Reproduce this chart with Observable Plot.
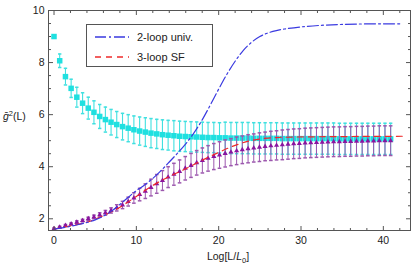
<!DOCTYPE html>
<html><head><meta charset="utf-8">
<script src="https://cdn.jsdelivr.net/npm/d3@7"></script>
<script src="https://cdn.jsdelivr.net/npm/@observablehq/plot@0.6"></script>
<style>
body{margin:0;background:#fff;font-family:"Liberation Sans",Arial,sans-serif}
#wrap{position:relative;width:415px;height:263px}
#legend{position:absolute;left:86px;top:24px;width:127px;height:43px;border:1px solid #555;background:#fff;box-sizing:border-box;font-size:11px;color:#222}
#legend .row{position:absolute;left:0;height:14px;display:flex;align-items:center}
#legend svg{margin-left:8px;margin-right:8px}
</style></head><body><div id="wrap"><div id="legend"></div></div>
<script>
// Log[L/L0] positions of the data points
const xs = [0,0.69,1.39,2.08,2.77,3.47,4.16,4.85,5.55,6.24,6.93,7.62,8.32,9.01,9.70,10.40,11.09,11.78,12.48,13.17,13.86,14.56,15.25,15.94,16.64,17.33,18.02,18.71,19.41,20.10,20.79,21.49,22.18,22.87,23.57,24.26,24.95,25.64,26.34,27.03,27.73,28.42,29.11,29.80,30.50,31.19,31.88,32.58,33.27,33.96,34.66,35.35,36.04,36.74,37.43,38.12,38.82,39.51,40.20,40.89];
// cyan squares (decreasing series)
const cyanY = [9.00,8.07,7.46,7.01,6.67,6.44,6.25,6.09,5.93,5.81,5.71,5.62,5.54,5.48,5.42,5.37,5.33,5.29,5.26,5.23,5.21,5.19,5.17,5.16,5.15,5.14,5.13,5.12,5.12,5.11,5.11,5.10,5.10,5.10,5.10,5.09,5.09,5.09,5.09,5.09,5.08,5.08,5.08,5.08,5.08,5.08,5.08,5.08,5.08,5.08,5.07,5.07,5.07,5.07,5.07,5.07,5.07,5.07,5.07,5.07];
const cyanErr = [0.04,0.26,0.32,0.35,0.38,0.40,0.42,0.44,0.46,0.48,0.49,0.50,0.51,0.52,0.53,0.54,0.55,0.56,0.56,0.57,0.57,0.58,0.58,0.58,0.58,0.58,0.58,0.58,0.58,0.58,0.60,0.60,0.60,0.60,0.60,0.60,0.60,0.60,0.60,0.60,0.60,0.60,0.60,0.60,0.60,0.60,0.60,0.60,0.60,0.60,0.60,0.60,0.60,0.60,0.60,0.60,0.60,0.60,0.60,0.60];
// purple triangles (increasing series)
const purpleY = [1.62,1.68,1.74,1.80,1.87,1.93,2.00,2.07,2.15,2.23,2.32,2.42,2.53,2.66,2.80,2.93,3.06,3.20,3.34,3.47,3.60,3.71,3.82,3.94,4.05,4.15,4.24,4.32,4.39,4.45,4.51,4.56,4.61,4.65,4.69,4.72,4.75,4.78,4.80,4.82,4.84,4.86,4.88,4.89,4.91,4.92,4.93,4.94,4.95,4.96,4.96,4.97,4.97,4.98,4.98,4.99,4.99,5.00,5.00,5.00];
const purpleErr = [0.03,0.03,0.04,0.04,0.05,0.05,0.06,0.07,0.08,0.09,0.10,0.12,0.14,0.17,0.20,0.24,0.28,0.32,0.36,0.38,0.40,0.42,0.44,0.45,0.46,0.47,0.48,0.49,0.50,0.51,0.52,0.52,0.53,0.53,0.54,0.54,0.55,0.55,0.56,0.56,0.57,0.57,0.57,0.57,0.57,0.57,0.57,0.57,0.57,0.57,0.57,0.57,0.57,0.57,0.57,0.57,0.57,0.57,0.57,0.57];
// 2-loop universal curve
const univX = [0,1,2,3,4,5,6,7,8,9,10,11,12,13,14,15,16,17,18,19,20,21,22,23,24,25,26,27,28,30,33,37,42];
const univY = [1.60,1.65,1.71,1.78,1.86,1.96,2.10,2.30,2.55,2.82,3.08,3.30,3.55,3.85,4.18,4.52,4.88,5.30,5.80,6.38,6.98,7.55,8.05,8.47,8.78,9.00,9.14,9.23,9.29,9.37,9.44,9.48,9.49];
// 3-loop SF curve
const sfX = [0,2,4,6,8,10,12,14,16,18,20,22,24,26,28,32,36,42.5];
const sfY = [1.60,1.73,1.87,2.12,2.44,2.86,3.28,3.62,3.92,4.25,4.55,4.82,5.01,5.10,5.13,5.15,5.16,5.17];
// ticks
const xMajor = [0,10,20,30,40];
const xMinor = [2,4,6,8,12,14,16,18,22,24,26,28,32,34,36,38,42];
const yMajor = [2,4,6,8,10];
const yMinor = [2.5,3,3.5,4.5,5,5.5,6.5,7,7.5,8.5,9,9.5];
const legendLabels = ["2-loop univ.","3-loop SF"];

const cyanData = xs.map((x,i)=>({x, y:cyanY[i], e:cyanErr[i]}));
const purpleData = xs.map((x,i)=>({x, y:purpleY[i], e:purpleErr[i]}));
const univData = univX.map((x,i)=>({x, y:univY[i]}));
const sfData = sfX.map((x,i)=>({x, y:sfY[i]}));

const mk = f => ({draw(ctx,size){ const r=Math.sqrt(size/Math.PI); f(ctx,r); }});
const hline = mk((c,r)=>{c.moveTo(-r,0);c.lineTo(r,0);});
const tickUp = mk((c,r)=>{c.moveTo(0,0);c.lineTo(0,-r);});
const tickDown = mk((c,r)=>{c.moveTo(0,0);c.lineTo(0,r);});
const tickRight = mk((c,r)=>{c.moveTo(0,0);c.lineTo(r,0);});
const tickLeft = mk((c,r)=>{c.moveTo(0,0);c.lineTo(-r,0);});

const frameC = "#555";
const cyan = "#1fe0e0", cyanBar = "#40e0e0";
const purple = "#8a14a0", purpleBar = "#9c58ae";
const blue = "#3a3ae0", red = "#ee2a2a";

function ticks(data, dim, anchor, sym, r){
  const o = {symbol: sym, r, stroke: frameC, fill: "none", strokeWidth: 1, frameAnchor: anchor};
  o[dim] = d=>d;
  return Plot.dot(data, o);
}

const plot = Plot.plot({
  width: 415, height: 263,
  marginLeft: 48, marginRight: 5, marginTop: 10, marginBottom: 33,
  style: {fontFamily: '"Liberation Sans", Arial, sans-serif', fontSize: "10.5px", color: "#222", background: "#fff"},
  x: {domain: [-0.67, 43.3]},
  y: {domain: [1.55, 10]},
  marks: [
    Plot.axisX(xMajor, {tickSize: 0, tickPadding: 6, label: null, fontSize: 10.5}),
    Plot.axisY(yMajor, {tickSize: 0, tickPadding: 4, label: null, fontSize: 10.5}),
    Plot.ruleX(cyanData, {x:"x", y1:d=>d.y-d.e, y2:d=>d.y+d.e, stroke: cyanBar, strokeWidth: 1.1}),
    Plot.dot(cyanData, {x:"x", y:d=>d.y+d.e, symbol: hline, r: 1.7, stroke: cyanBar, fill:"none"}),
    Plot.dot(cyanData, {x:"x", y:d=>d.y-d.e, symbol: hline, r: 1.7, stroke: cyanBar, fill:"none"}),
    Plot.dot(cyanData, {x:"x", y:"y", symbol:"square", r: 3.1, fill: cyan, stroke:"none"}),
    Plot.ruleX(purpleData, {x:"x", y1:d=>d.y-d.e, y2:d=>d.y+d.e, stroke: purpleBar, strokeWidth: 1}),
    Plot.dot(purpleData, {x:"x", y:d=>d.y+d.e, symbol: hline, r: 1.8, stroke: purpleBar, fill:"none"}),
    Plot.dot(purpleData, {x:"x", y:d=>d.y-d.e, symbol: hline, r: 1.8, stroke: purpleBar, fill:"none"}),
    Plot.dot(purpleData, {x:"x", y:"y", symbol:"triangle", r: 1.9, fill: purple, stroke:"none"}),
    Plot.line(sfData, {x:"x", y:"y", stroke: red, strokeWidth: 1.2, strokeDasharray: "6,5", curve: "catmull-rom"}),
    Plot.line(univData, {x:"x", y:"y", stroke: blue, strokeWidth: 1.2, strokeDasharray: "11,3,2,3", curve: "catmull-rom"}),
    ticks(xMajor, "x", "bottom", tickUp, 4.5),
    ticks(xMinor, "x", "bottom", tickUp, 2.5),
    ticks(xMajor, "x", "top", tickDown, 4.5),
    ticks(xMinor, "x", "top", tickDown, 2.5),
    ticks(yMajor, "y", "left", tickRight, 4.5),
    ticks(yMinor, "y", "left", tickRight, 2.5),
    ticks(yMajor, "y", "right", tickLeft, 4.5),
    ticks(yMinor, "y", "right", tickLeft, 2.5),
    Plot.frame({stroke: frameC, strokeWidth: 1})
  ]
});
const wrap = document.getElementById("wrap");
wrap.insertBefore(plot, wrap.firstChild);

const svg = d3.select(plot);
// y label
const yl = svg.append("text").attr("x", 3).attr("y", 120).attr("text-anchor","start").attr("fill","#222").attr("font-size", 10.5);
yl.append("tspan").attr("font-style","italic").text("ḡ");
yl.append("tspan").attr("dy", -4).attr("font-size", 7.5).text("2");
yl.append("tspan").attr("dy", 4).text("(L)");
// x label
const xl = svg.append("text").attr("x", 228).attr("y", 260).attr("text-anchor","middle").attr("fill","#222").attr("font-size", 10.5);
xl.append("tspan").text("Log[L/");
xl.append("tspan").attr("font-style","italic").text("L");
xl.append("tspan").attr("dy", 2.5).attr("font-size", 7.5).text("0");
xl.append("tspan").attr("dy", -2.5).text("]");

// legend
const lg = document.getElementById("legend");
const styles = [{stroke: blue, dash: "11,3,2,3"}, {stroke: red, dash: "6,5"}];
legendLabels.forEach((t,i)=>{
  const row = document.createElement("div");
  row.className = "row";
  row.style.top = (i===0 ? 5 : 25) + "px";
  row.innerHTML = `<svg width="34" height="4"><line x1="0" y1="2" x2="34" y2="2" stroke="${styles[i].stroke}" stroke-width="1.3" stroke-dasharray="${styles[i].dash}"/></svg><span>${t}</span>`;
  lg.appendChild(row);
});
</script></body></html>
